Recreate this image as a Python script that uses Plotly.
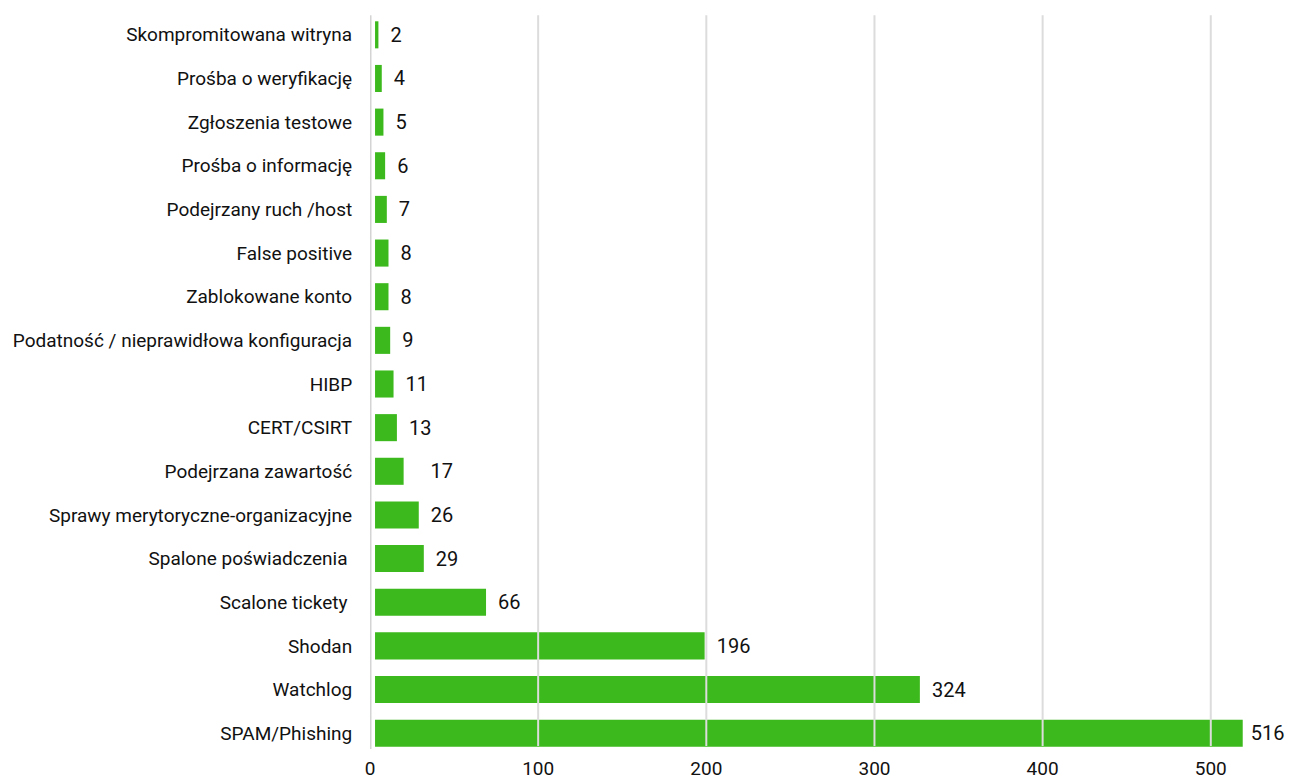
import plotly.graph_objects as go

categories = [
    "Skompromitowana witryna",
    "Prośba o weryfikację",
    "Zgłoszenia testowe",
    "Prośba o informację",
    "Podejrzany ruch /host",
    "False positive",
    "Zablokowane konto",
    "Podatność / nieprawidłowa konfiguracja",
    "HIBP",
    "CERT/CSIRT",
    "Podejrzana zawartość",
    "Sprawy merytoryczne-organizacyjne",
    "Spalone poświadczenia ",
    "Scalone tickety ",
    "Shodan",
    "Watchlog",
    "SPAM/Phishing",
]
values = [2, 4, 5, 6, 7, 8, 8, 9, 11, 13, 17, 26, 29, 66, 196, 324, 516]
value_labels = [" \u2009" + s for s in
                ["2", "4", "5", "6", "7", "8", "8", "9", "11", "13", "   17",
                 "26", "29", "66", "196", "324"]] + [" 516"]
x_ticks = [0, 100, 200, 300, 400, 500]

fig = go.Figure(
    go.Bar(
        y=categories,
        x=values,
        orientation="h",
        base=3,
        marker=dict(color="#3cb91c", line=dict(width=0)),
        text=value_labels,
        textposition="outside",
        textfont=dict(family="Roboto", size=20, color="#111111"),
        cliponaxis=False,
        hoverinfo="x+y",
    )
)

# vertical grid lines drawn over the bars, as in the reference
for t in x_ticks:
    fig.add_shape(
        type="line",
        xref="x",
        yref="paper",
        x0=t,
        x1=t,
        y0=0.012 if t else 0.008,
        y1=0.997,
        line=dict(color="#dcdcdc" if t else "#d4d4d4", width=2 if t else 3),
        layer="above",
    )

fig.update_layout(
    width=1293,
    height=778,
    paper_bgcolor="white",
    plot_bgcolor="white",
    margin=dict(l=362, r=28, t=5, b=31),
    bargap=0.38,
    showlegend=False,
    font=dict(family="Roboto", size=19, color="#111111"),
)
fig.update_xaxes(
    range=[0, 537],
    tickvals=x_ticks,
    showgrid=False,
    zeroline=False,
    automargin=False,
    tickfont=dict(family="Roboto", size=19, color="#111111"),
    showline=False,
)
fig.update_yaxes(
    autorange="reversed",
    showgrid=False,
    automargin=False,
    ticks="outside",
    ticklen=13,
    tickcolor="rgba(0,0,0,0)",
    tickfont=dict(family="Roboto", size=19, color="#111111"),
)

fig.write_html("out.html")
